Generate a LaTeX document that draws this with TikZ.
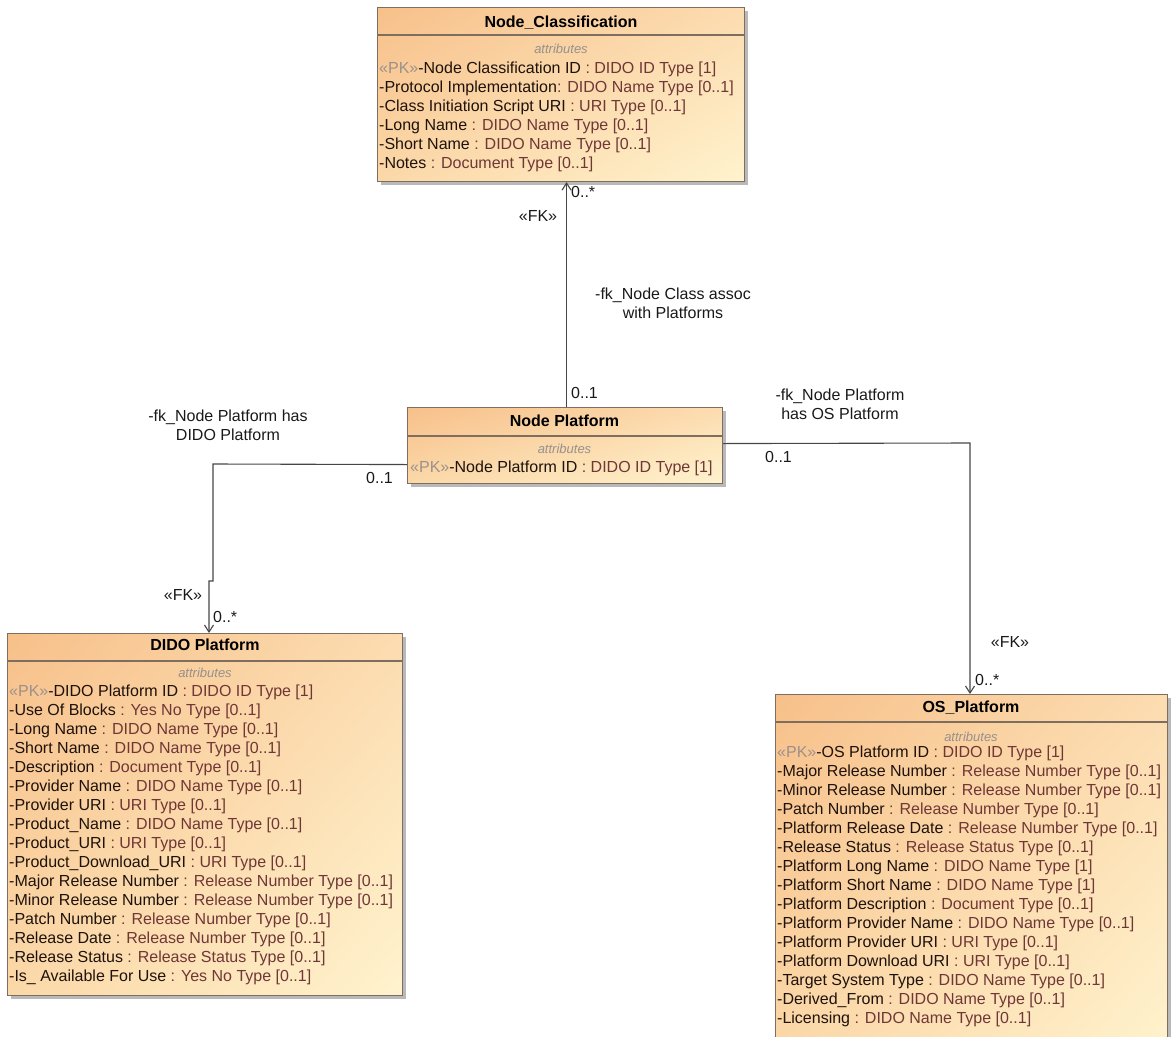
\documentclass[tikz,border=0pt]{standalone}
\usepackage{fontspec}
\setmainfont{Liberation Sans}
\usetikzlibrary{arrows.meta,shadows,shadings}
\definecolor{boxA}{RGB}{247,192,138}
\definecolor{boxB}{RGB}{252,220,176}
\definecolor{boxC}{RGB}{251,216,168}
\definecolor{boxD}{RGB}{255,243,206}
\definecolor{boxborder}{RGB}{125,110,95}
\definecolor{namec}{RGB}{30,18,12}
\definecolor{typec}{RGB}{112,55,55}
\definecolor{pkc}{RGB}{155,145,140}
\definecolor{attrgrey}{RGB}{150,145,140}
\definecolor{linec}{RGB}{70,70,70}
\definecolor{labelc}{RGB}{25,25,25}
\newcommand{\pkmark}{\textcolor{pkc}{«PK»}}
\newcommand{\ty}[1]{\textcolor{typec}{#1}}
\tikzset{
  cls/.style={draw=boxborder, line width=1.1pt, shade, upper left=boxA, upper right=boxB,
    lower left=boxC, lower right=boxD, anchor=north west, inner sep=0pt,
    drop shadow={shadow xshift=3pt, shadow yshift=-3pt, fill=black!50, opacity=0.55}},
  sep/.style={draw=boxborder, line width=1.1pt},
  ttl/.style={font=\fontsize{16}{19}\selectfont\bfseries, anchor=base, inner sep=0pt, text=black},
  attrhd/.style={font=\fontsize{13}{15}\selectfont\itshape, text=attrgrey, anchor=base, inner sep=0pt},
  attr/.style={font=\fontsize{16}{19}\selectfont, text=namec, anchor=base west, inner sep=0pt},
  lbl/.style={font=\fontsize{16}{19}\selectfont, text=labelc, inner sep=0pt, align=center},
  assoc/.style={draw=linec, line width=1.1pt, -{Straight Barb[length=7pt, width=9pt]}},
}
\begin{document}
\begin{tikzpicture}[x=1pt, y=-1pt]
\useasboundingbox (0,0) rectangle (1171,1037);
\clip (0,0) rectangle (1171,1037);

% ---------- Node_Classification ----------
\node[cls, minimum width=367pt, minimum height=174pt] (nc) at (377,7) {};
\draw[sep] ([yshift=-28pt]nc.north west) -- ([yshift=-28pt]nc.north east);
\node[ttl] (nct) at (561,27.5) {Node\_Classification};
\node[attrhd] (nch) at (561,53) {attributes};
\foreach \t [count=\i from 0] in {
  {\pkmark-Node Classification ID \ty{: DIDO ID Type [1]}},
  {-Protocol Implementation\ty{: DIDO Name Type [0..1]}},
  {-Class Initiation Script URI \ty{: URI Type [0..1]}},
  {-Long Name \ty{: DIDO Name Type [0..1]}},
  {-Short Name \ty{: DIDO Name Type [0..1]}},
  {-Notes \ty{: Document Type [0..1]}}}
  {\node[attr] (nca\i) at (379,73.5+19*\i) {\t};}

% ---------- Node Platform ----------
\node[cls, minimum width=315pt, minimum height=76pt] (np) at (407,407) {};
\draw[sep] ([yshift=-29pt]np.north west) -- ([yshift=-29pt]np.north east);
\node[ttl] (npt) at (564.5,426.5) {Node Platform};
\node[attrhd] (nph) at (564.5,453) {attributes};
\node[attr] (npa0) at (410,472.5) {\pkmark-Node Platform ID \ty{: DIDO ID Type [1]}};

% ---------- DIDO Platform ----------
\node[cls, minimum width=395pt, minimum height=362pt] (dp) at (7,633) {};
\draw[sep] ([yshift=-28pt]dp.north west) -- ([yshift=-28pt]dp.north east);
\node[ttl] (dpt) at (205,650.5) {DIDO Platform};
\node[attrhd] (dph) at (205,677) {attributes};
\foreach \t [count=\i from 0] in {
  {\pkmark-DIDO Platform ID \ty{: DIDO ID Type [1]}},
  {-Use Of Blocks \ty{: Yes No Type [0..1]}},
  {-Long Name \ty{: DIDO Name Type [0..1]}},
  {-Short Name \ty{: DIDO Name Type [0..1]}},
  {-Description \ty{: Document Type [0..1]}},
  {-Provider Name \ty{: DIDO Name Type [0..1]}},
  {-Provider URI \ty{: URI Type [0..1]}},
  {-Product\_Name \ty{: DIDO Name Type [0..1]}},
  {-Product\_URI \ty{: URI Type [0..1]}},
  {-Product\_Download\_URI \ty{: URI Type [0..1]}},
  {-Major Release Number \ty{: Release Number Type [0..1]}},
  {-Minor Release Number \ty{: Release Number Type [0..1]}},
  {-Patch Number \ty{: Release Number Type [0..1]}},
  {-Release Date \ty{: Release Number Type [0..1]}},
  {-Release Status \ty{: Release Status Type [0..1]}},
  {-Is\_ Available For Use \ty{: Yes No Type [0..1]}}}
  {\node[attr] (dpa\i) at (9,696.5+19*\i) {\t};}

% ---------- OS_Platform ----------
\node[cls, minimum width=392pt, minimum height=360pt] (os) at (775,694) {};
\draw[sep] ([yshift=-28pt]os.north west) -- ([yshift=-28pt]os.north east);
\node[ttl] (ost) at (971,712.5) {OS\_Platform};
\node[attrhd] (osh) at (971,741) {attributes};
\foreach \t [count=\i from 0] in {
  {\pkmark-OS Platform ID \ty{: DIDO ID Type [1]}},
  {-Major Release Number \ty{: Release Number Type [0..1]}},
  {-Minor Release Number \ty{: Release Number Type [0..1]}},
  {-Patch Number \ty{: Release Number Type [0..1]}},
  {-Platform Release Date \ty{: Release Number Type [0..1]}},
  {-Release Status \ty{: Release Status Type [0..1]}},
  {-Platform Long Name \ty{: DIDO Name Type [1]}},
  {-Platform Short Name \ty{: DIDO Name Type [1]}},
  {-Platform Description \ty{: Document Type [0..1]}},
  {-Platform Provider Name \ty{: DIDO Name Type [0..1]}},
  {-Platform Provider URI \ty{: URI Type [0..1]}},
  {-Platform Download URI \ty{: URI Type [0..1]}},
  {-Target System Type \ty{: DIDO Name Type [0..1]}},
  {-Derived\_From \ty{: DIDO Name Type [0..1]}},
  {-Licensing \ty{: DIDO Name Type [0..1]}}}
  {\node[attr] (osa\i) at (777,757.5+19*\i) {\t};}

% ---------- connectors ----------
\coordinate (c1s) at ([xshift=1.5pt]np.north);
\draw[assoc] (c1s) -- (c1s |- nc.south);

\coordinate (c2s) at ([yshift=-19pt]np.west);
\coordinate (c2a) at (213,464);
\coordinate (c2b) at (213,581);
\coordinate (c2c) at (209,581);
\draw[assoc] (c2s) -- (c2a) -- (c2b) -- (c2c) -- (c2c |- dp.north);

\coordinate (c3s) at ([yshift=2pt]np.east);
\coordinate (c3a) at (970,443);
\draw[assoc] (c3s) -- (c3a) -- (c3a |- os.north);

% ---------- labels ----------
\node[lbl, anchor=west] (l1a) at (571,192) {0..*};
\node[lbl] (l1b) at (538,216) {«FK»};
\node[lbl] (l1c) at (673,303) {-fk\_Node Class assoc\\with Platforms};
\node[lbl, anchor=west] (l1d) at (571,393) {0..1};

\node[lbl] (l2a) at (228,425) {-fk\_Node Platform has\\DIDO Platform};
\node[lbl, anchor=west] (l2b) at (366,478) {0..1};
\node[lbl] (l2c) at (183,595) {«FK»};
\node[lbl, anchor=west] (l2d) at (213,617) {0..*};

\node[lbl] (l3a) at (840,404) {-fk\_Node Platform\\has OS Platform};
\node[lbl, anchor=west] (l3b) at (765,457) {0..1};
\node[lbl] (l3c) at (1010,642) {«FK»};
\node[lbl, anchor=west] (l3d) at (975,680) {0..*};
\end{tikzpicture}
\end{document}
